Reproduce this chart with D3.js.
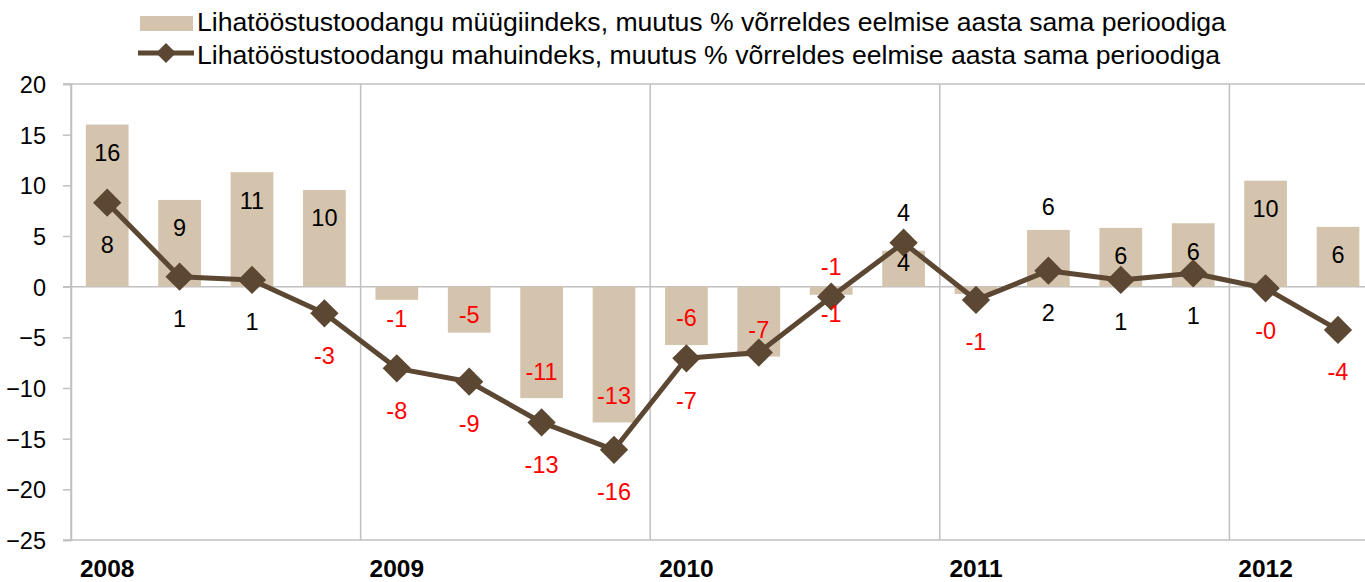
<!DOCTYPE html>
<html>
<head>
<meta charset="utf-8">
<script src="https://cdn.jsdelivr.net/npm/d3@7"></script>
<style>
  body { margin: 0; background: #fff; }
  svg { display: block; font-family: Arial, "Liberation Sans", sans-serif; }
</style>
</head>
<body>
<script>
// Quarters 2008 I .. 2012 II
var quarters = ['2008 I', '2008 II', '2008 III', '2008 IV',
  '2009 I', '2009 II', '2009 III', '2009 IV',
  '2010 I', '2010 II', '2010 III', '2010 IV',
  '2011 I', '2011 II', '2011 III', '2011 IV',
  '2012 I', '2012 II'];
var years = ['2008', '2009', '2010', '2011', '2012'];

// müügiindeks (bars)
var salesIndex = [16.0, 8.56, 11.3, 9.54, -1.3, -4.54, -11.0, -13.4, -5.76, -6.9, -0.8, 3.55, -0.72, 5.6, 5.8, 6.26, 10.46, 5.9];
// mahuindeks (line)
var volumeIndex = [8.29, 0.99, 0.66, -2.63, -8.06, -9.38, -13.4, -16.1, -7.07, -6.5, -0.99, 4.34, -1.31, 1.58, 0.66, 1.32, -0.16, -4.27];

var yTicks = [20, 15, 10, 5, 0, -5, -10, -15, -20, -25];

var seriesNames = [
  'Lihatööstustoodangu müügiindeks, muutus % võrreldes eelmise aasta sama perioodiga',
  'Lihatööstustoodangu mahuindeks, muutus % võrreldes eelmise aasta sama perioodiga'
];

// where the value labels sit (in = inside end, out = outside end)
var barLabelPlace = ['in', 'in', 'in', 'in', 'out', 'mid', 'in', 'in', 'in', 'in', 'out', 'mid', 'none', 'out', 'in', 'in', 'in', 'in'];
var lineLabelPlace = ['below', 'below', 'below', 'below', 'below', 'below', 'below', 'below', 'below', 'none', 'above', 'above', 'below', 'below', 'below', 'below', 'below', 'below'];

var width = 1365;
var height = 582;
var barColor = '#d5c4ad';
var lineColor = '#5c4733';
var gridColor = '#c0c0c0';
var fontSize = 23.5;

var left = 71;
var step = 72.4;

var svg = d3.select('body')
  .append('svg')
  .attr('width', width)
  .attr('height', height);

var x = d3.scaleBand()
  .domain(quarters)
  .range([left, left + step * quarters.length])
  .paddingInner(0.41)
  .paddingOuter(0.205);

var y = d3.scaleLinear()
  .domain([-25, 20])
  .range([540, 84]);

function fmt(v) {
  return v < 0 ? '-' + Math.round(Math.abs(v)) : String(Math.round(v));
}
function labelColor(v) {
  return v < 0 ? '#ff0000' : '#000000';
}
function cx(i) {
  return x(quarters[i]) + x.bandwidth() / 2;
}

// grid / axis lines
var grid = svg.append('g');
grid.append('line')
  .attr('x1', left - 8).attr('x2', width)
  .attr('y1', y(20)).attr('y2', y(20));
grid.append('line')
  .attr('x1', left - 8).attr('x2', width)
  .attr('y1', y(0)).attr('y2', y(0));
grid.append('line')
  .attr('x1', left - 8).attr('x2', width)
  .attr('y1', y(-25)).attr('y2', y(-25));
grid.selectAll('line.year')
  .data(d3.range(0, quarters.length + 1, 4))
  .join('line')
  .attr('class', 'year')
  .attr('x1', d => left + d * step).attr('x2', d => left + d * step)
  .attr('y1', y(20)).attr('y2', y(-25));
grid.selectAll('line')
  .attr('stroke', gridColor)
  .attr('stroke-width', 1.5);

// y axis
var yAxis = svg.append('g')
  .attr('transform', 'translate(' + left + ',0)')
  .call(d3.axisLeft(y).tickValues(yTicks).tickSize(8).tickPadding(17).tickFormat(d3.format('d')));
yAxis.select('.domain').attr('stroke', gridColor).attr('stroke-width', 1.5);
yAxis.selectAll('.tick line').attr('stroke', gridColor).attr('stroke-width', 1.5);
yAxis.selectAll('.tick text')
  .attr('font-size', fontSize)
  .attr('font-family', 'Arial, "Liberation Sans", sans-serif')
  .attr('fill', '#000')
  .attr('dy', '0.36em');

// year labels under first quarter of each year
svg.append('g')
  .selectAll('text')
  .data(years)
  .join('text')
  .attr('x', (d, i) => cx(i * 4))
  .attr('y', 577)
  .attr('text-anchor', 'middle')
  .attr('font-size', 24.5)
  .attr('font-weight', 'bold')
  .text(d => d);

// bars
svg.append('g')
  .selectAll('rect')
  .data(salesIndex)
  .join('rect')
  .attr('x', (d, i) => x(quarters[i]))
  .attr('width', x.bandwidth())
  .attr('y', d => y(Math.max(0, d)))
  .attr('height', d => Math.abs(y(d) - y(0)))
  .attr('fill', barColor);

// line
var line = d3.line()
  .x((d, i) => cx(i))
  .y(d => y(d));

svg.append('path')
  .datum(volumeIndex)
  .attr('d', line)
  .attr('fill', 'none')
  .attr('stroke', lineColor)
  .attr('stroke-width', 5)
  .attr('stroke-linejoin', 'round');

var diamond = d3.symbol().type(d3.symbolSquare).size(400);
svg.append('g')
  .selectAll('path')
  .data(volumeIndex)
  .join('path')
  .attr('d', diamond)
  .attr('transform', (d, i) => 'translate(' + cx(i) + ',' + y(d) + ') rotate(45)')
  .attr('fill', lineColor);

// bar value labels
function barLabelY(d) {
  var end = y(d.v);
  if (d.place === 'mid') return (y(d.v) + y(0)) / 2 + (d.v < 0 ? 5 : -6);
  if (d.v >= 0) return d.place === 'in' ? end + 28 : end - 23;
  return d.place === 'in' ? end - 27 : end + 19;
}
var barLabels = salesIndex
  .map((v, i) => ({ v: v, i: i, place: barLabelPlace[i] }))
  .filter(d => d.place !== 'none');

svg.append('g')
  .selectAll('text')
  .data(barLabels)
  .join('text')
  .attr('x', d => cx(d.i))
  .attr('y', barLabelY)
  .attr('dy', '0.36em')
  .attr('text-anchor', 'middle')
  .attr('font-size', fontSize)
  .attr('fill', d => labelColor(d.v))
  .text(d => fmt(d.v));

// line value labels
var lineLabels = volumeIndex
  .map((v, i) => ({ v: v, i: i, place: lineLabelPlace[i] }))
  .filter(d => d.place !== 'none');

svg.append('g')
  .selectAll('text')
  .data(lineLabels)
  .join('text')
  .attr('x', d => cx(d.i))
  .attr('y', d => y(d.v) + (d.place === 'below' ? 42 : -30))
  .attr('dy', '0.36em')
  .attr('text-anchor', 'middle')
  .attr('font-size', fontSize)
  .attr('fill', d => labelColor(d.v))
  .text(d => fmt(d.v));

// legend
var legend = svg.append('g');
legend.append('rect')
  .attr('x', 140).attr('y', 16)
  .attr('width', 53).attr('height', 15)
  .attr('fill', barColor);
legend.append('line')
  .attr('x1', 138).attr('x2', 194)
  .attr('y1', 53).attr('y2', 53)
  .attr('stroke', lineColor)
  .attr('stroke-width', 5);
legend.append('path')
  .attr('d', d3.symbol().type(d3.symbolSquare).size(200))
  .attr('transform', 'translate(166,53) rotate(45)')
  .attr('fill', lineColor);
legend.selectAll('text')
  .data(seriesNames)
  .join('text')
  .attr('x', 197)
  .attr('y', (d, i) => 31 + i * 33)
  .attr('font-size', 26.6)
  .attr('fill', '#000')
  .text(d => d);
</script>
</body>
</html>
